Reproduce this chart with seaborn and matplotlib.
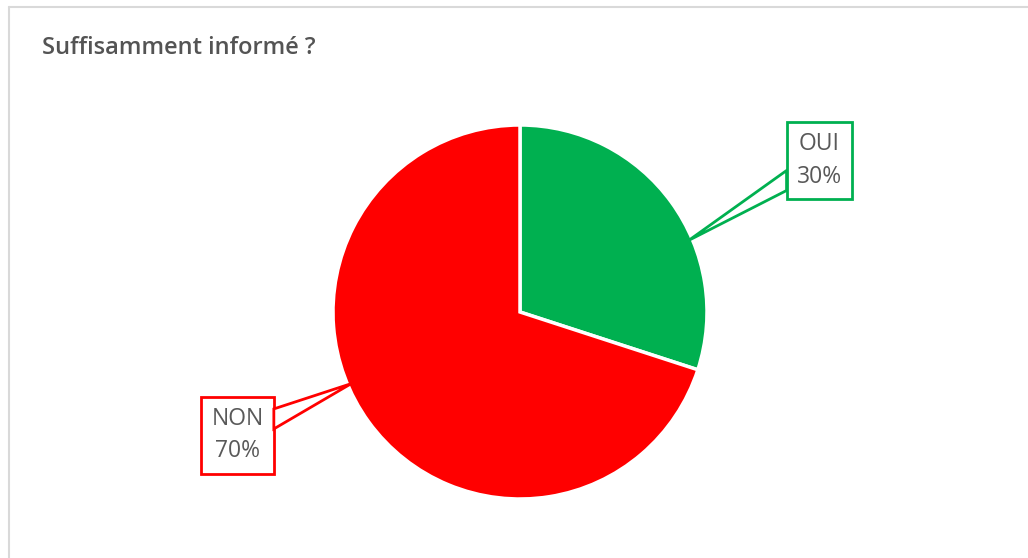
import numpy as np
import matplotlib
matplotlib.use("Agg")
import matplotlib.pyplot as plt
import seaborn as sns
from matplotlib.lines import Line2D
from matplotlib.patches import Polygon
from matplotlib.transforms import IdentityTransform

# chart data
title = "Suffisamment informé ?"
labels = ["OUI", "NON"]
values = [30, 70]
colors = ["#00B050", "#FF0000"]

# label box offsets (data units, pie radius = 1)
label_pos = [(1.60, 0.81), (-1.51, -0.66)]

sns.set_theme(style="white")
plt.rcParams["font.family"] = ["Open Sans", "DejaVu Sans"]

fig = plt.figure(figsize=(10.28, 5.58), dpi=100)
W, H = 1028, 558

# pie axes: centre (520, 312) px, radius 187 px
cx, cy, r = 520, 312, 187
ax = fig.add_axes([(cx - r) / W, (H - cy - r) / H, 2 * r / W, 2 * r / H])
wedges, _ = ax.pie(values, colors=colors, startangle=90, counterclock=False,
                   wedgeprops=dict(edgecolor="white", linewidth=2.5))
ax.set_xlim(-1, 1)
ax.set_ylim(-1, 1)
ax.set_aspect("equal")
ax.axis("off")

texts, tips = [], []
for w, lab, val, col, pos in zip(wedges, labels, values, colors, label_pos):
    mid = np.deg2rad((w.theta1 + w.theta2) / 2 - 13)
    tips.append((0.98 * np.cos(mid), 0.98 * np.sin(mid)))
    pct = round(100 * val / sum(values))
    t = ax.text(pos[0], pos[1], f"{lab}\n{pct}%", ha="center", va="center",
                multialignment="center", fontsize=16.5, color="#595959",
                linespacing=1.45, zorder=5, clip_on=False,
                bbox=dict(boxstyle="square,pad=0.44", fc="white", ec=col, lw=2))
    texts.append(t)

# callout pointers from box edge to the slice
fig.canvas.draw()
for t, tip, col in zip(texts, tips, colors):
    bb = t.get_bbox_patch().get_window_extent()
    c = np.array([(bb.x0 + bb.x1) / 2, (bb.y0 + bb.y1) / 2])
    tp = ax.transData.transform(tip)
    d = tp - c
    sx = (bb.width / 2) / abs(d[0])
    sy = (bb.height / 2) / abs(d[1])
    p = c + min(sx, sy) * d
    off = np.array([0, 10]) if sx < sy else np.array([10, 0])
    ptr = Polygon([p - off, tp, p + off], closed=True, fc="white", ec=col, lw=2,
                  transform=IdentityTransform(), zorder=4)
    fig.add_artist(ptr)

# chart title
fig.text(42 / W, 1 - 48 / H, title, ha="left", va="center", fontsize=17,
         fontweight="semibold", color="#545454")

# light frame (top and left edge of the chart area)
fig.add_artist(Line2D([9 / W, 1], [1 - 7 / H, 1 - 7 / H], color="#D9D9D9", lw=1.5))
fig.add_artist(Line2D([9 / W, 9 / W], [0, 1 - 7 / H], color="#D9D9D9", lw=1.5))

fig.savefig("out.png", dpi=100, facecolor="white")
